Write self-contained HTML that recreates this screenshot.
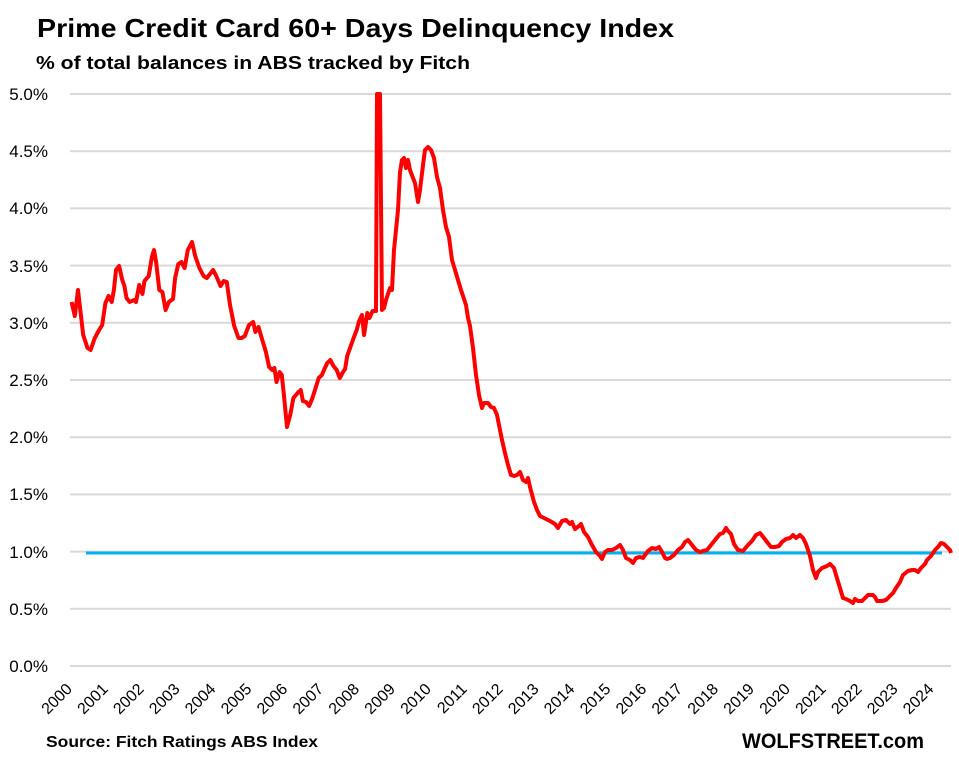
<!DOCTYPE html>
<html><head><meta charset="utf-8"><style>html,body{margin:0;padding:0;background:#fff;}svg{display:block;}</style></head>
<body>
<svg width="959" height="764" xmlns="http://www.w3.org/2000/svg" font-family="Liberation Sans, sans-serif">
<rect width="959" height="764" fill="#fff"/>
<text x="37" y="37" font-size="26" font-weight="bold" textLength="637" lengthAdjust="spacingAndGlyphs">Prime Credit Card 60+ Days Delinquency Index</text>
<text x="36" y="69" font-size="18" font-weight="bold" textLength="434" lengthAdjust="spacingAndGlyphs">% of total balances in ABS tracked by Fitch</text>
<g stroke="#d9d9d9" stroke-width="2">
<line x1="70" x2="951" y1="94" y2="94"/><line x1="70" x2="951" y1="151.2" y2="151.2"/><line x1="70" x2="951" y1="208.4" y2="208.4"/><line x1="70" x2="951" y1="265.6" y2="265.6"/><line x1="70" x2="951" y1="322.8" y2="322.8"/><line x1="70" x2="951" y1="380" y2="380"/><line x1="70" x2="951" y1="437.2" y2="437.2"/><line x1="70" x2="951" y1="494.4" y2="494.4"/><line x1="70" x2="951" y1="551.6" y2="551.6"/><line x1="70" x2="951" y1="608.8" y2="608.8"/><line x1="70" x2="951" y1="666" y2="666"/>
</g>
<g font-size="17" text-anchor="end" fill="#000">
<text x="48" y="100">5.0%</text><text x="48" y="157">4.5%</text><text x="48" y="214">4.0%</text><text x="48" y="272">3.5%</text><text x="48" y="329">3.0%</text><text x="48" y="386">2.5%</text><text x="48" y="443">2.0%</text><text x="48" y="500">1.5%</text><text x="48" y="558">1.0%</text><text x="48" y="615">0.5%</text><text x="48" y="672">0.0%</text>
</g>
<line x1="86" x2="942" y1="553" y2="553" stroke="#00B0F0" stroke-width="3"/>
<polyline fill="none" stroke="#ff0000" stroke-width="4" stroke-linejoin="round" points="71.6,302 74.8,316 78,290 83.2,335 87.5,348 90.6,350 94.8,338 99.1,330 102.2,325 105.4,303 108.6,296 111.7,302 113.9,290 116,270 119.1,266 122.3,280 124.4,286 126.5,298 129.7,302 133.9,300 136,302 139.2,285 142.4,294 144.5,281 148.7,276 151.9,257 154,250 156.1,262 159.3,290 162.4,292 165.6,310 168.8,302 173,299 175.1,278 178.3,264 181.4,262 184.6,268 187.8,250 192,242 195.2,256 199.4,268 203.6,276 206.8,278 210,274 213.1,270 216.3,276 220.5,286 223.7,281 226.8,282 230,305 234.2,326 238.5,338 241.6,338 244.8,336 249,325 253.2,322 255.4,332 258.5,327 261.7,338 265.9,352 269.1,367 272.3,370 274.4,368 276.5,382 279.6,372 281.8,375 283.9,395 287,427 290.2,415 293.4,398 297.6,393 300.8,390 302.9,401 306,402 309.2,406 312.4,398 315.6,388 318.7,378 321.9,375 324,370 327.2,363 330.3,360 333.5,366 336.7,370 339.8,378 343,372 345.1,369 347.2,356 350.4,347 353.6,338 356.7,330 358.8,322 362,315 364.1,335 367.3,313 369.4,318 372.6,311 376,311 377,94 380,94 382,310 384,308 386,300 388,294 390,288 392,290 394,250 396,230 398,210 400,172 402,160 404,158 406,168 408,160 410,170 413,178 415,183 418,202 420,190 423,165 425,150 428,147 431,150 434,158 437,177 440,188 443,210 446,227 449,237 452,260 455,270 458,280 461,290 463,296 466,305 468,318 470,326 473,348 476,375 479,395 482,408 484,403 488,403 491,407 494,408 497,415 499,425 502,440 505,453 508,465 511,475 514,476 517,475 520,472 523,480 526,482 528,478 530,487 534,502 537,510 540,516 550,521 555,524 558,528 562,521 566,520 570,524 572,522 575,529 579,526 581,524 584,532 588,537 592,545 596,552 600,556 602,559 605,552 608,550 612,550 616,548 620,545 623,550 626,558 630,560 633,563 636,558 640,557 643,558 645,555 648,551 652,548 656,549 659,547 662,552 665,558 667,559 670,558 674,555 678,550 682,547 685,542 688,540 692,545 696,550 700,552 703,551 707,550 711,545 715,540 720,534 723,533 726,528 728,531 731,534 734,544 738,550 743,551 748,545 752,541 756,535 760,533 764,538 767,542 771,547 775,547 779,546 782,542 786,539 790,538 793,535 796,538 800,535 803,538 806,544 810,556 813,570 816,578 818,572 822,568 827,566 830,564 834,568 836,575 840,588 843,598 846,599 850,601 853,603 855,599 858,601 862,601 866,597 868,595 873,595 875,597 877,601 882,601 886,600 888,598 893,593 896,588 900,582 903,575 908,571 912,570 915,570 918,572 921,568 925,564 927,560 931,556 935,550 938,547 941,543 944,544 947,547 950,550 951,553"/>
<g font-size="16" text-anchor="end" fill="#000">
<text transform="translate(73,690) rotate(-45)">2000</text><text transform="translate(108.9,690) rotate(-45)">2001</text><text transform="translate(144.8,690) rotate(-45)">2002</text><text transform="translate(180.7,690) rotate(-45)">2003</text><text transform="translate(216.6,690) rotate(-45)">2004</text><text transform="translate(252.5,690) rotate(-45)">2005</text><text transform="translate(288.4,690) rotate(-45)">2006</text><text transform="translate(324.3,690) rotate(-45)">2007</text><text transform="translate(360.2,690) rotate(-45)">2008</text><text transform="translate(396.1,690) rotate(-45)">2009</text><text transform="translate(432,690) rotate(-45)">2010</text><text transform="translate(467.9,690) rotate(-45)">2011</text><text transform="translate(503.8,690) rotate(-45)">2012</text><text transform="translate(539.7,690) rotate(-45)">2013</text><text transform="translate(575.6,690) rotate(-45)">2014</text><text transform="translate(611.5,690) rotate(-45)">2015</text><text transform="translate(647.4,690) rotate(-45)">2016</text><text transform="translate(683.3,690) rotate(-45)">2017</text><text transform="translate(719.2,690) rotate(-45)">2018</text><text transform="translate(755.1,690) rotate(-45)">2019</text><text transform="translate(791,690) rotate(-45)">2020</text><text transform="translate(826.9,690) rotate(-45)">2021</text><text transform="translate(862.8,690) rotate(-45)">2022</text><text transform="translate(898.7,690) rotate(-45)">2023</text><text transform="translate(934.6,690) rotate(-45)">2024</text>
</g>
<text x="46" y="747" font-size="16" font-weight="bold" textLength="272" lengthAdjust="spacingAndGlyphs">Source: Fitch Ratings ABS Index</text>
<text x="742" y="748" font-size="21" font-weight="bold" textLength="182" lengthAdjust="spacingAndGlyphs">WOLFSTREET.com</text>
</svg>
</body></html>
